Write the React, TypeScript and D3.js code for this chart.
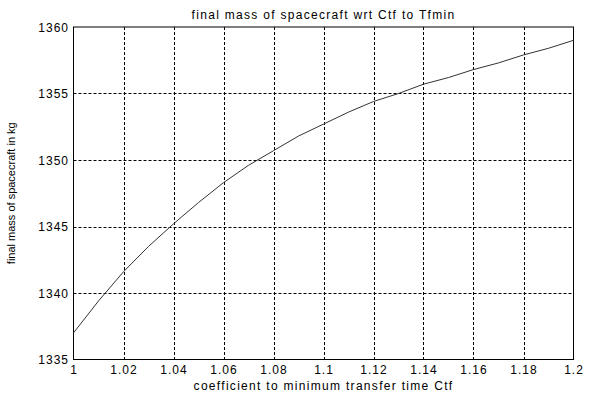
import React from "react";
import * as d3 from "d3";

// Coefficient to minimum transfer time (Ctf) and resulting final mass (kg)
const ctf = [1.0, 1.01, 1.02, 1.03, 1.04, 1.05, 1.06, 1.07, 1.08, 1.09, 1.1, 1.11, 1.12, 1.13, 1.14, 1.15, 1.16, 1.17, 1.18, 1.19, 1.2];
const finalMass = [1337.0, 1339.4, 1341.6, 1343.5, 1345.2, 1346.8, 1348.3, 1349.6, 1350.7, 1351.8, 1352.7, 1353.6, 1354.4, 1355.0, 1355.7, 1356.2, 1356.8, 1357.3, 1357.9, 1358.4, 1359.0];

const xTicks = [1, 1.02, 1.04, 1.06, 1.08, 1.1, 1.12, 1.14, 1.16, 1.18, 1.2];
const yTicks = [1335, 1340, 1345, 1350, 1355, 1360];

const W = 595;
const H = 394;
const plot = { left: 73.5, right: 573.5, top: 27, bottom: 359.5 };
const font = "'Liberation Sans', Arial, sans-serif";

export default function App() {
  const x = d3.scaleLinear().domain([1, 1.2]).range([plot.left, plot.right]);
  const y = d3.scaleLinear().domain([1335, 1360]).range([plot.bottom, plot.top]);
  const line = d3
    .line<number>()
    .x((_, i) => x(ctf[i]))
    .y((d) => y(d));

  const fmt = (v: number) => String(+v.toFixed(2));

  return (
    <div style={{ position: "fixed", left: 0, top: 0 }}>
      <svg width={W} height={H} style={{ display: "block", background: "#fff" }}>
        <rect x={0} y={0} width={W} height={H} fill="#fff" />
        {/* grid */}
        {xTicks.slice(1, -1).map((t) => (
          <line key={"gx" + t} x1={Math.round(x(t)) + 0.5} x2={Math.round(x(t)) + 0.5} y1={plot.top} y2={plot.bottom}
            stroke="#000" strokeWidth={1} strokeDasharray="3,2" />
        ))}
        {yTicks.slice(1, -1).map((t) => (
          <line key={"gy" + t} y1={Math.round(y(t)) + 0.5} y2={Math.round(y(t)) + 0.5} x1={plot.left} x2={plot.right}
            stroke="#000" strokeWidth={1} strokeDasharray="3,2" />
        ))}
        {/* frame */}
        <rect x={plot.left} y={plot.top} width={plot.right - plot.left} height={plot.bottom - plot.top}
          fill="none" stroke="#000" strokeWidth={1} />
        {/* data curve */}
        <path d={line(finalMass) || ""} fill="none" stroke="#333" strokeWidth={1} />
        {/* tick labels */}
        {xTicks.map((t) => (
          <text key={"tx" + t} x={x(t) + 0.5} y={374} textAnchor="middle" fontFamily={font} fontSize={12}
            letterSpacing={1} fill="#000">
            {fmt(t)}
          </text>
        ))}
        {yTicks.map((t) => (
          <text key={"ty" + t} x={69} y={y(t) + 4.5} textAnchor="end" fontFamily={font} fontSize={12}
            letterSpacing={1} fill="#000">
            {t}
          </text>
        ))}
        {/* titles */}
        <text x={(plot.left + plot.right) / 2} y={19} textAnchor="middle" fontFamily={font} fontSize={12}
          letterSpacing={1.3} fill="#000">
          final mass of spacecraft wrt Ctf to Tfmin
        </text>
        <text x={(plot.left + plot.right) / 2} y={390} textAnchor="middle" fontFamily={font} fontSize={12}
          letterSpacing={1.3} fill="#000">
          coefficient to minimum transfer time Ctf
        </text>
        <text transform={`translate(15, ${(plot.top + plot.bottom) / 2}) rotate(-90)`} textAnchor="middle"
          fontFamily={font} fontSize={11} fill="#000">
          final mass of spacecraft in kg
        </text>
      </svg>
    </div>
  );
}
